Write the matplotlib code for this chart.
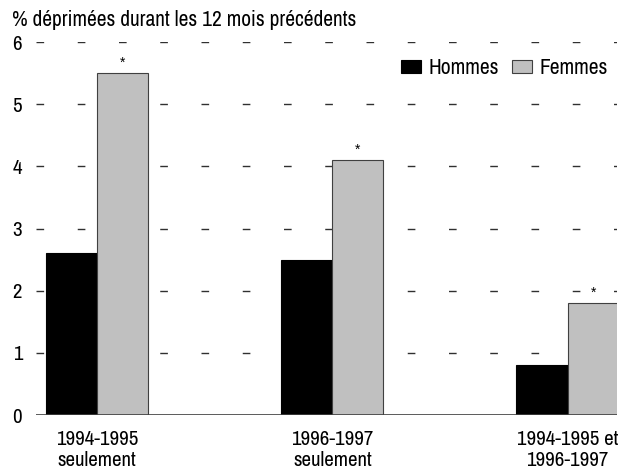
import matplotlib
matplotlib.use("Agg")
import matplotlib.pyplot as plt
import numpy as np

# categories and values
categories = ["1994-1995\nseulement", "1996-1997\nseulement", "1994-1995 et\n1996-1997"]
hommes = [2.6, 2.5, 0.8]
femmes = [5.5, 4.1, 1.8]
signif = ["*", "*", "*"]
yticks = [0, 1, 2, 3, 4, 5, 6]

plt.rcParams["font.family"] = ["Archivo Narrow", "Liberation Sans", "DejaVu Sans"]

fig = plt.figure(figsize=(6.2, 4.73), dpi=100)
ax = fig.add_axes([0.058, 0.1226, 0.937, 0.7886])

x = np.arange(len(categories))
w = 0.217
ax.bar(x - w / 2, hommes, w, color="black", edgecolor="black", linewidth=0.8, label="Hommes", zorder=3)
ax.bar(x + w / 2, femmes, w, color="#c0c0c0", edgecolor="#404040", linewidth=0.8, label="Femmes", zorder=3)

# significance markers
for xi, v, s in zip(x, femmes, signif):
    ax.text(xi + w / 2, v + 0.06, s, ha="center", va="bottom", fontsize=10,
            family="Liberation Sans", zorder=4)

# dashed gridlines
for t in yticks[1:]:
    ax.axhline(t, color="#303030", linewidth=1, linestyle=(0, (5.5, 24.2)), zorder=1)
ax.axhline(0, color="#404040", linewidth=1.2, zorder=4)

ax.set_xlim(-0.26, 2.21)
ax.set_ylim(0, 6)
ax.set_yticks(yticks)
ax.set_xticks(x)
ax.set_xticklabels(categories, fontsize=15, linespacing=1.1)
ax.tick_params(axis="both", length=0, labelsize=15)
ax.tick_params(axis="y", pad=10)
ax.tick_params(axis="x", pad=11)
for sp in ax.spines.values():
    sp.set_visible(False)

fig.text(0.019, 0.978, "% déprimées durant les 12 mois précédents", fontsize=15.4, ha="left", va="top")

ax.legend(loc="upper right", bbox_to_anchor=(1.0, 0.98), ncol=2, frameon=False, fontsize=15.5,
          handlelength=0.93, handleheight=0.56, handletextpad=0.37, columnspacing=0.6,
          borderpad=0.2, borderaxespad=0.2)

fig.savefig("out.png", dpi=100)
